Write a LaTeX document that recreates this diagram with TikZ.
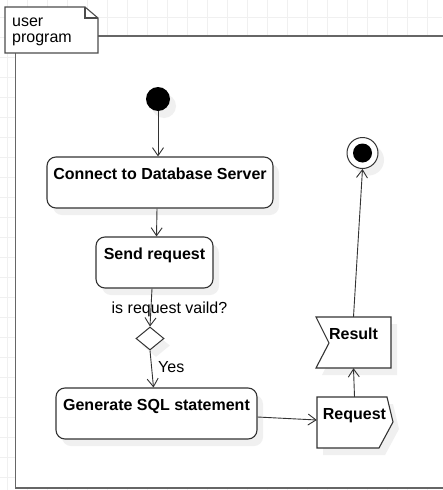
\documentclass[tikz,border=0pt]{standalone}
\usepackage{fontspec}
\setmainfont{Liberation Sans}
\usetikzlibrary{arrows.meta,shapes.geometric,shadows}

\begin{document}
\begin{tikzpicture}[x=1pt,y=-1pt,>={Straight Barb[length=8pt,width=11pt]}]
\tikzstyle{every node}=[font=\fontsize{16}{16}\selectfont]
\tikzstyle{gridline}=[draw=black!6,line width=0.6pt]
\tikzstyle{softshadow}=[drop shadow={shadow xshift=6pt,shadow yshift=-7pt,fill=black!6,opacity=1}]
\tikzstyle{outline}=[draw=black!80,line width=1.1pt,fill=white,softshadow]
\tikzstyle{action}=[outline,rectangle,rounded corners=9pt,inner xsep=0pt,inner ysep=7pt,
  text height=15pt,text depth=22pt,font=\fontsize{16}{16}\selectfont\bfseries]
\tikzstyle{eventbox}=[rectangle,minimum width=75pt,inner xsep=0pt,inner ysep=7pt,
  text height=15pt,text depth=22pt,font=\fontsize{16}{16}\selectfont\bfseries]
\tikzstyle{flow}=[->,draw=black!80,line width=0.9pt]
\useasboundingbox (0,0) rectangle (442,490);

% background grid
\foreach \gx in {7,27,...,440} \draw[gridline] (\gx,0) -- (\gx,490);
\foreach \gy in {17,37,...,490} \draw[gridline] (0,\gy) -- (442,\gy);

% frame
\draw[draw=black!60,line width=1.4pt,fill=white] (15.5,36) rectangle (460,488);
\draw[draw=black!70,line width=1.1pt,fill=white] (5,7) -- (85,7) -- (98,18) -- (98,53) -- (5,53) -- cycle;
\draw[draw=black!70,line width=1.1pt] (85,7) -- (85,18) -- (98,18);
\draw (12,17.6) node (frametitle) [anchor=north west,inner sep=0pt,align=left] {user\\program};

% signal shapes
\draw[outline] (316,317) -- (391,317) -- (391,368) -- (316,368) -- (329,343) -- cycle;
\draw[outline] (317,397) -- (387,397) -- (393,422) -- (379,448) -- (317,448) -- cycle;

\draw (158,99) node (start) [circle,fill=black,minimum size=24pt,inner sep=0pt,softshadow] {};
\draw (160,182.5) node (connect) [action,minimum width=226pt] {Connect to Database Server};
\draw (154.5,262.5) node (send) [action,minimum width=117pt] {Send request};
\draw (150,338.5) node (valid) [diamond,draw=black!80,line width=1pt,fill=white,softshadow,
  minimum width=28pt,minimum height=23pt,inner sep=0pt] {};
\draw (156.5,413.5) node (generate) [action,minimum width=201pt] {Generate SQL statement};
\draw (353.5,342.5) node (result) [eventbox] {Result};
\draw (354.5,422.5) node (request) [eventbox] {Request};
\draw (362.5,153) node (final) [circle,draw=black!80,line width=1pt,fill=white,minimum size=31pt,
  inner sep=0pt,softshadow] {};
\fill (final.center) circle (9.5pt);

\draw (169.5,313) node (validq) [anchor=base] {is request vaild?};
\draw (158,372) node (yes) [anchor=base west,inner sep=0pt] {Yes};

\draw[flow] (start) -- (start |- connect.north);
\draw[flow] ([xshift=-3pt]connect.south) -- ([xshift=2pt]send.north);
\draw[flow] ([xshift=-2.5pt]send.south) -- (valid.north);
\draw[flow] (valid.south) -- ([xshift=-3pt]generate.north);
\draw[flow] ([yshift=-3.5pt]generate.east) -- ([yshift=2.5pt]request.west);
\draw[flow] (request.north) -- (result.south);
\draw[flow] (result.north) -- (final.south);
\end{tikzpicture}
\end{document}
